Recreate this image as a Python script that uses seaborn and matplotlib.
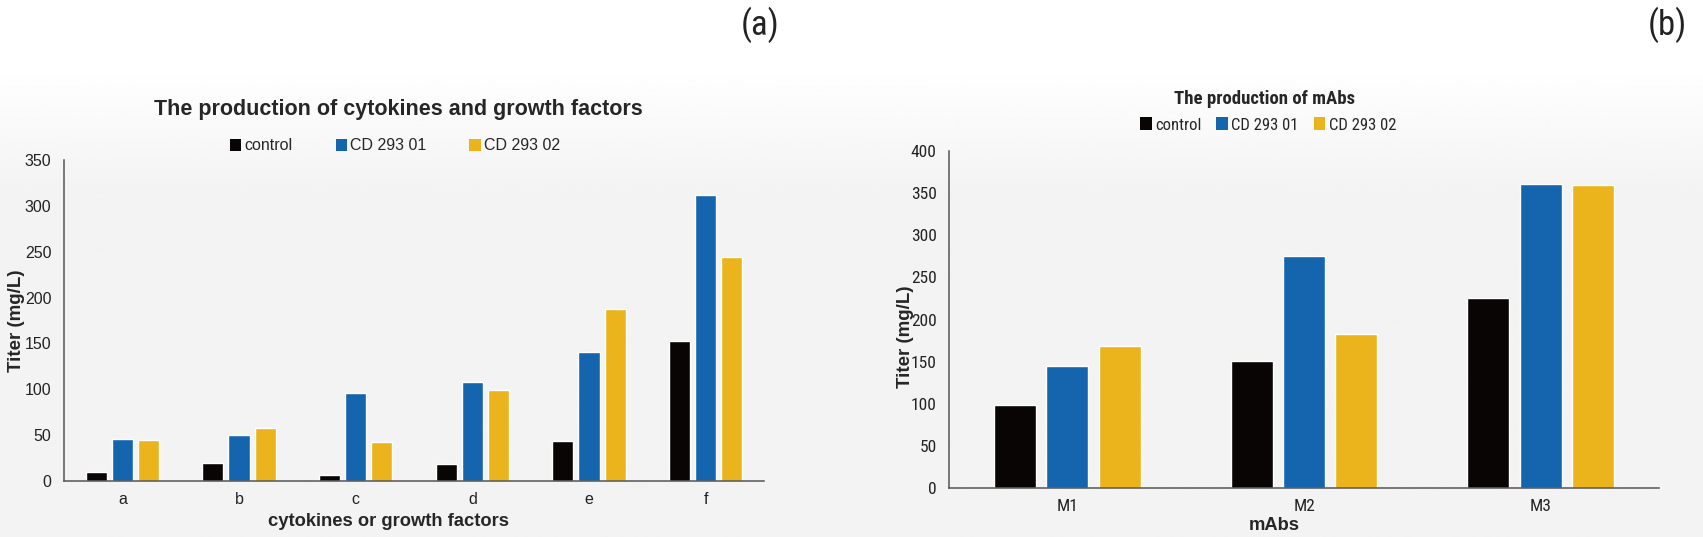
import matplotlib
matplotlib.use('Agg')
import matplotlib.pyplot as plt
from matplotlib import font_manager
from matplotlib.patches import Patch
import seaborn as sns
import pandas as pd
import numpy as np

# data
groups = ['control', 'CD 293 01', 'CD 293 02']
colors = ['#0a0505', '#1465ad', '#ebb31c']

cyto_cats = ['a', 'b', 'c', 'd', 'e', 'f']
cyto_control = [10, 20, 7, 18, 44, 153]
cyto_cd01 = [46, 50, 96, 108, 141, 312]
cyto_cd02 = [45, 58, 43, 99, 188, 244]

mab_cats = ['M1', 'M2', 'M3']
mab_control = [98, 151, 226]
mab_cd01 = [145, 275, 361]
mab_cd02 = [168, 183, 360]

sns.set_theme(style='white')
names = {f.name for f in font_manager.fontManager.ttflist}
narrow = 'Liberation Sans'
for cand in ['Liberation Sans Narrow', 'DejaVu Sans Condensed', 'Roboto Condensed']:
    if cand in names:
        narrow = cand
        break
plt.rcParams['font.family'] = ['Liberation Sans', 'DejaVu Sans']

W, H = 1703, 537
fig = plt.figure(figsize=(W / 100, H / 100), dpi=100)
fig.patch.set_facecolor('white')

# soft grey background like the scanned figure
bg = fig.add_axes([0, 0, 1, 1], zorder=-10)
grad = np.clip((np.linspace(0, 1, 200) - 0.12) / 0.25, 0, 1)
shade = 1 - 0.05 * grad
bg.imshow(np.repeat(shade[:, None], 2, axis=1), cmap='gray', vmin=0, vmax=1,
          aspect='auto', extent=[0, 1, 0, 1], origin='upper')
bg.axis('off')


def long_df(cats, ctrl, c1, c2):
    rows = []
    for i, c in enumerate(cats):
        rows.append((c, groups[0], ctrl[i]))
        rows.append((c, groups[1], c1[i]))
        rows.append((c, groups[2], c2[i]))
    return pd.DataFrame(rows, columns=['cat', 'group', 'value'])


def px_axes(l, t, r, b):
    return fig.add_axes([l / W, 1 - b / H, (r - l) / W, (b - t) / H])


def draw(ax, df, cats, ymax, gap_w, gap, fam, tsize):
    sns.barplot(data=df, x='cat', y='value', hue='group', hue_order=groups,
                palette=colors, width=gap_w, gap=gap, legend=False,
                saturation=1, ax=ax)
    ax.set_facecolor('none')
    ax.set_ylim(0, ymax)
    ax.set_xlim(-0.5, len(cats) - 0.5)
    ax.set_yticks(np.arange(0, ymax + 1, 50))
    for s in ['top', 'right']:
        ax.spines[s].set_visible(False)
    for s in ['left', 'bottom']:
        ax.spines[s].set_color('#555555')
        ax.spines[s].set_linewidth(1.1)
    ax.set_xticks(np.arange(len(cats)))
    ax.set_xticklabels(cats, fontfamily=fam, fontsize=tsize)
    ax.set_xticks(np.arange(-0.5, len(cats)), minor=True)
    ax.tick_params(axis='x', which='major', length=0, pad=8, colors='#222222')
    ax.tick_params(axis='x', which='minor', length=4, direction='in',
                   color='#555555', width=1)
    ax.tick_params(axis='y', length=4, direction='in', color='#555555',
                   width=1, pad=9, labelsize=tsize, colors='#222222')
    for t in ax.get_yticklabels():
        t.set_fontfamily(fam)


# panel (a)
ax1 = px_axes(64, 160, 764, 481)
draw(ax1, long_df(cyto_cats, cyto_control, cyto_cd01, cyto_cd02),
     cyto_cats, 350, 0.67, 0.19, 'Liberation Sans', 11.5)
ax1.set_ylabel('Titer (mg/L)', fontsize=13.5, fontweight='bold', va='center')
ax1.yaxis.set_label_coords((17 - 64) / 700, 0.5)
ax1.set_xlabel('cytokines or growth factors', fontsize=13.2, fontweight='bold', va='center')
ax1.xaxis.set_label_coords((389 - 64) / 700, (481 - 521) / 321)
fig.text(398 / W, 1 - 109 / H, 'The production of cytokines and growth factors',
         ha='center', va='center', fontsize=15.5, fontweight='bold')

handles = [Patch(facecolor=c, edgecolor='none') for c in colors]
ax1.legend(handles, groups, ncol=3, loc='center', frameon=False,
           bbox_to_anchor=(395 / W, 1 - 146 / H), bbox_transform=fig.transFigure,
           handlelength=0.7, handleheight=0.8, handletextpad=0.2,
           columnspacing=2.7, prop={'family': 'Liberation Sans', 'size': 11.5})

# panel (b)
ax2 = px_axes(949, 151, 1659, 488)
draw(ax2, long_df(mab_cats, mab_control, mab_cd01, mab_cd02),
     mab_cats, 400, 0.665, 0.2, narrow, 12.5)
ax2.set_ylabel('Titer (mg/L)', fontsize=13.5, fontweight='bold', va='center')
ax2.yaxis.set_label_coords((905 - 949) / 710, 0.45)
ax2.set_xlabel('mAbs', fontsize=13.2, fontweight='bold', va='center')
ax2.xaxis.set_label_coords((1274 - 949) / 710, (488 - 526) / 337)
fig.text(1265 / W, 1 - 99 / H, 'The production of mAbs',
         ha='center', va='center', fontsize=13.5, fontweight='bold', fontfamily=narrow)
ax2.legend(handles, groups, ncol=3, loc='center', frameon=False,
           bbox_to_anchor=(1268 / W, 1 - 125 / H), bbox_transform=fig.transFigure,
           handlelength=0.7, handleheight=0.8, handletextpad=0.2,
           columnspacing=0.9, prop={'family': narrow, 'size': 12})

fig.text(760 / W, 1 - 25 / H, '(a)', ha='center', va='center',
         fontsize=25, fontfamily=narrow, color='#222222')
fig.text(1667 / W, 1 - 25 / H, '(b)', ha='center', va='center',
         fontsize=25, fontfamily=narrow, color='#222222')

fig.savefig('out.png', dpi=100, facecolor=fig.get_facecolor())
